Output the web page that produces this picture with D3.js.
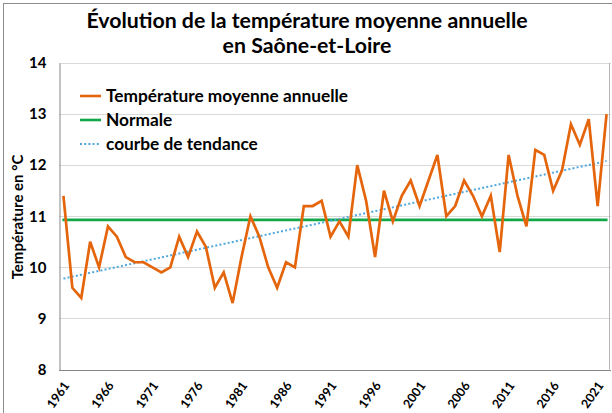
<!DOCTYPE html>
<html>
<head>
<meta charset="utf-8">
<script src="https://cdn.jsdelivr.net/npm/d3@7"></script>
<style>
  body { margin: 0; background: #fff; }
  svg { display: block; font-family: Lato, "Open Sans", sans-serif; }
</style>
</head>
<body>
<svg id="chart" width="612" height="413"></svg>
<script>
// Mean annual temperature, Saône-et-Loire (°C)
const years = [1961,1962,1963,1964,1965,1966,1967,1968,1969,1970,
  1971,1972,1973,1974,1975,1976,1977,1978,1979,1980,
  1981,1982,1983,1984,1985,1986,1987,1988,1989,1990,
  1991,1992,1993,1994,1995,1996,1997,1998,1999,2000,
  2001,2002,2003,2004,2005,2006,2007,2008,2009,2010,
  2011,2012,2013,2014,2015,2016,2017,2018,2019,2020,
  2021,2022];
const temperatures = [11.4,9.6,9.4,10.5,10.0,10.8,10.6,10.2,10.1,10.1,
  10.0,9.9,10.0,10.6,10.2,10.7,10.4,9.6,9.9,9.3,
  10.2,11.0,10.6,10.0,9.6,10.1,10.0,11.2,11.2,11.3,
  10.6,10.9,10.6,12.0,11.3,10.2,11.5,10.9,11.4,11.7,
  11.2,11.7,12.2,11.0,11.2,11.7,11.4,11.0,11.4,10.3,
  12.2,11.4,10.8,12.3,12.2,11.5,11.9,12.8,12.4,12.9,
  11.2,13.0];
// Climate normal (flat reference line)
const normale = 10.93;
// Linear trend, values at the first and last year
const trendYears = [1961, 2022];
const trendValues = [9.78, 12.08];
const yTicks = [8, 9, 10, 11, 12, 13, 14];
const xTickLabels = [1961,1966,1971,1976,1981,1986,1991,1996,2001,2006,2011,2016,2021];
const legendLabels = ["Température moyenne annuelle", "Normale", "courbe de tendance"];
const titleLines = ["Évolution de la température moyenne annuelle", "en Saône-et-Loire"];
const yAxisTitle = "Température en °C";

const colors = { temp: "#E4650C", normale: "#12A84A", trend: "#4FA8DE" };

const svg = d3.select("#chart");
const plot = { left: 59, right: 611, top: 63, bottom: 369.5 };

// outer chart frame
svg.append("rect")
  .attr("x", 3.5).attr("y", 3.5).attr("width", 640).attr("height", 440)
  .attr("fill", "#fff").attr("stroke", "#8c8c8c").attr("stroke-width", 1);

const x = d3.scalePoint().domain(years).range([plot.left, plot.right]).padding(0.5);
const y = d3.scaleLinear().domain([8, 14]).range([plot.bottom, plot.top]);

// horizontal gridlines
svg.append("g").selectAll("line").data(yTicks.filter(d => d > 8)).join("line")
  .attr("x1", plot.left).attr("x2", plot.right)
  .attr("y1", d => Math.round(y(d)) + 0.5).attr("y2", d => Math.round(y(d)) + 0.5)
  .attr("stroke", "#d9d9d9").attr("stroke-width", 1);

// right edge of the plot area
svg.append("line")
  .attr("x1", plot.right - 1.5).attr("x2", plot.right - 1.5)
  .attr("y1", plot.top).attr("y2", plot.bottom)
  .attr("stroke", "#b5b5b5");

// y axis
const yAxis = svg.append("g").attr("transform", `translate(${plot.left + 0.5},0)`)
  .call(d3.axisLeft(y).tickValues(yTicks).tickSize(0).tickPadding(13).tickFormat(d3.format("d")));
yAxis.select(".domain").attr("stroke", "#868686");
yAxis.selectAll("text").attr("font-size", 15).attr("font-weight", 700).attr("fill", "#000")
  .attr("font-family", "Lato");

// x axis
const xAxis = svg.append("g").attr("transform", `translate(0,${Math.round(plot.bottom) + 0.5})`)
  .call(d3.axisBottom(x).tickValues(xTickLabels).tickSize(0).tickFormat(d => String(d)));
xAxis.select(".domain").attr("stroke", "#868686").attr("d", `M${plot.left},0H${plot.right}`);
xAxis.selectAll("text")
  .attr("font-size", 12.5).attr("font-weight", 700).attr("fill", "#000").attr("font-family", "Lato")
  .attr("text-anchor", "end").attr("dy", null).attr("y", 0)
  .attr("transform", "translate(6,15) rotate(-55)");

// normal line
svg.append("line")
  .attr("x1", x(years[0]) - 1).attr("x2", x(years[years.length - 1]) + 1)
  .attr("y1", y(normale)).attr("y2", y(normale))
  .attr("stroke", colors.normale).attr("stroke-width", 2.6);

// trend line
svg.append("path")
  .datum(trendYears.map((yr, i) => [yr, trendValues[i]]))
  .attr("d", d3.line().x(d => x(d[0])).y(d => y(d[1])))
  .attr("fill", "none").attr("stroke", colors.trend).attr("stroke-width", 2)
  .attr("stroke-dasharray", "2,2.2");

// temperature series
svg.append("path")
  .datum(years.map((yr, i) => [yr, temperatures[i]]))
  .attr("d", d3.line().x(d => x(d[0])).y(d => y(d[1])))
  .attr("fill", "none").attr("stroke", colors.temp).attr("stroke-width", 2.7)
  .attr("stroke-linejoin", "miter");

// legend
const legend = svg.append("g");
const legendStyles = [
  { color: colors.temp, dash: null, width: 2.6 },
  { color: colors.normale, dash: null, width: 2.6 },
  { color: colors.trend, dash: "2,2.2", width: 2 }
];
legendLabels.forEach((label, i) => {
  const cy = 96 + i * 24;
  legend.append("line")
    .attr("x1", 80).attr("x2", 101).attr("y1", cy).attr("y2", cy)
    .attr("stroke", legendStyles[i].color).attr("stroke-width", legendStyles[i].width)
    .attr("stroke-dasharray", legendStyles[i].dash);
  legend.append("text")
    .attr("x", 106).attr("y", cy + 6)
    .attr("font-size", 17.3).attr("font-weight", 700).attr("fill", "#000")
    .text(label);
});

// title
svg.append("g").selectAll("text").data(titleLines).join("text")
  .attr("x", 307).attr("y", (d, i) => 28 + i * 25)
  .attr("text-anchor", "middle")
  .attr("font-size", 21.3).attr("font-weight", 700).attr("fill", "#000")
  .text(d => d);

// y axis title
svg.append("text")
  .attr("transform", `translate(23,217) rotate(-90)`)
  .attr("text-anchor", "middle")
  .attr("font-size", 15).attr("font-weight", 700).attr("fill", "#000")
  .text(yAxisTitle);
</script>
</body>
</html>
